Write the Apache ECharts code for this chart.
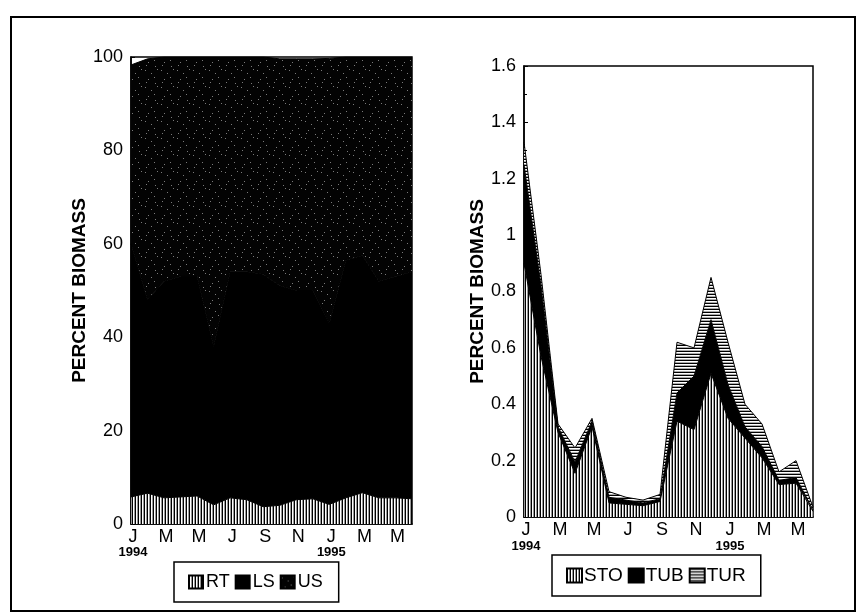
<!DOCTYPE html>
<html><head><meta charset="utf-8">
<script src="https://cdn.jsdelivr.net/npm/echarts@6/dist/echarts.min.js"></script>
<style>html,body{margin:0;padding:0;background:#fff}#c{width:864px;height:614px}</style>
</head><body><div id="c"></div>
<script>
// ---- data ----
const categories = ['Jan 1994','Feb 1994','Mar 1994','Apr 1994','May 1994','Jun 1994','Jul 1994','Aug 1994','Sep 1994','Oct 1994','Nov 1994','Dec 1994','Jan 1995','Feb 1995','Mar 1995','Apr 1995','May 1995','Jun 1995'];
const monthLetters = ['J','F','M','A','M','J','J','A','S','O','N','D','J','F','M','A','M','J'];
const yearLabels = ['1994','','','','','','','','','','','','1995','','','','',''];

// Left panel: percent biomass by component (stacked)
const RT = [5.8, 6.6, 5.6, 5.8, 6.0, 4.1, 5.6, 5.2, 3.7, 4.0, 5.2, 5.4, 4.2, 5.6, 6.7, 5.6, 5.6, 5.4];
const LS = [54.2, 41.4, 46.4, 47.2, 47.0, 33.9, 48.4, 48.8, 49.8, 47.0, 44.8, 44.6, 38.8, 50.9, 50.8, 46.4, 47.4, 48.6];
const US = [38.3, 51.6, 48.0, 47.0, 47.0, 62.0, 46.0, 46.0, 46.5, 48.6, 49.6, 49.6, 56.7, 43.5, 42.5, 48.0, 47.0, 46.0];

// Right panel: percent biomass (stacked)
const STO = [0.90, 0.57, 0.30, 0.155, 0.32, 0.05, 0.045, 0.04, 0.055, 0.34, 0.31, 0.51, 0.35, 0.28, 0.21, 0.115, 0.12, 0.02];
const TUB = [0.35, 0.25, 0.02, 0.04, 0.02, 0.02, 0.015, 0.01, 0.01, 0.10, 0.19, 0.19, 0.12, 0.04, 0.04, 0.015, 0.02, 0.005];
const TUR = [0.08, 0.04, 0.01, 0.05, 0.01, 0.02, 0.01, 0.01, 0.015, 0.18, 0.10, 0.15, 0.15, 0.08, 0.08, 0.03, 0.06, 0.01];

const leftLegend = ['RT','LS','US'];
const rightLegend = ['STO','TUB','TUR'];

// ---- fill patterns ----
function pattern(w, h, fn) {
  const c = document.createElement('canvas');
  c.width = w; c.height = h;
  const ctx = c.getContext('2d');
  for (let x = 0; x < w; x++) for (let y = 0; y < h; y++) {
    ctx.fillStyle = fn(x, y); ctx.fillRect(x, y, 1, 1);
  }
  return { image: c, repeat: 'repeat' };
}
const vStripe = pattern(3, 1, (x) => ['#000', '#fff', '#999'][x]);
const hStripe = pattern(1, 3, (x, y) => ['#000', '#fff', '#aaa'][y]);
const dots = [[1,2],[7,5],[4,11],[10,9],[13,1],[2,14],[11,15]];
const speckle = pattern(16, 17, (x, y) => dots.some(d => d[0] === x && d[1] === y) ? '#7a7a7a' : '#030303');

const FONT = '"Liberation Sans", Arial, sans-serif';

function xAxis(gridIndex, lh) {
  return {
    type: 'category', gridIndex, data: categories, boundaryGap: false,
    axisLine: { show: true, lineStyle: { color: '#000', width: 1.5 } },
    axisTick: { show: false },
    axisLabel: {
      interval: 1, margin: 4,
      formatter: (v, i) => '{m|' + monthLetters[i] + '}' + (yearLabels[i] ? '\n{y|' + yearLabels[i] + '}' : ''),
      rich: {
        m: { fontFamily: FONT, fontSize: 18, color: '#000', lineHeight: lh, padding: [0, 0, 0, 4] },
        y: { fontFamily: FONT, fontSize: 13, fontWeight: 'bold', color: '#000', lineHeight: 12, padding: [0, 0, 0, 4] }
      }
    },
    splitLine: { show: false }
  };
}
function yAxis(gridIndex, max, interval, gap) {
  return {
    type: 'value', gridIndex, min: 0, max, interval,
    name: 'PERCENT BIOMASS', nameLocation: 'middle', nameGap: gap,
    nameTextStyle: { fontFamily: FONT, fontSize: 19, fontWeight: 'bold', color: '#000' },
    axisLine: { show: true, lineStyle: { color: '#000', width: 1.5 } },
    axisTick: { show: true, inside: true, length: 4, lineStyle: { color: '#000' } },
    minorTick: { show: true, splitNumber: 2, length: 3, lineStyle: { color: '#000' } },
    axisLabel: { fontFamily: FONT, fontSize: 18, color: '#000', margin: 8 },
    splitLine: { show: false }
  };
}
function area(name, data, fill, idx, stack) {
  return {
    name, type: 'line', data, stack, xAxisIndex: idx, yAxisIndex: idx,
    showSymbol: false, symbol: 'none', smooth: false,
    lineStyle: { color: '#000', width: 1 },
    itemStyle: { color: fill, borderColor: '#000', borderWidth: 1 },
    areaStyle: { color: fill, opacity: 1 },
    emphasis: { disabled: true }
  };
}

const chart = echarts.init(document.getElementById('c'), null, { renderer: 'canvas' });
chart.setOption({
  animation: false,
  backgroundColor: '#fff',
  grid: [
    { left: 131, top: 57, width: 281, height: 467, show: true, borderColor: '#000', borderWidth: 1.5, backgroundColor: 'transparent' },
    { left: 524, top: 66, width: 289, height: 451, show: true, borderColor: '#000', borderWidth: 1.5, backgroundColor: 'transparent' }
  ],
  xAxis: [xAxis(0, 18), xAxis(1, 19)],
  yAxis: [yAxis(0, 100, 20, 40), yAxis(1, 1.6, 0.2, 33)],
  legend: [
    {
      data: leftLegend.map(n => ({ name: n, icon: 'rect' })),
      left: 174, top: 562, orient: 'horizontal',
      itemWidth: 14, itemHeight: 13, itemGap: 5,
      padding: [11, 16, 11, 14],
      borderColor: '#000', borderWidth: 1.5,
      textStyle: { fontFamily: FONT, fontSize: 18, color: '#000', padding: [0, 0, 0, -2] },
      selectedMode: false
    },
    {
      data: rightLegend.map(n => ({ name: n, icon: 'rect' })),
      left: 552, top: 555, orient: 'horizontal',
      itemWidth: 15, itemHeight: 14, itemGap: 5,
      padding: [11, 15, 11, 14],
      borderColor: '#000', borderWidth: 1.5,
      textStyle: { fontFamily: FONT, fontSize: 19, color: '#000', padding: [0, 0, 0, -3] },
      selectedMode: false
    }
  ],
  graphic: [
    { type: 'rect', shape: { x: 11, y: 17, width: 844, height: 594 }, style: { fill: 'none', stroke: '#000', lineWidth: 2 }, silent: true }
  ],
  series: [
    area('RT', RT, vStripe, 0, 'L'),
    area('LS', LS, '#000', 0, 'L'),
    area('US', US, speckle, 0, 'L'),
    area('STO', STO, vStripe, 1, 'R'),
    area('TUB', TUB, '#000', 1, 'R'),
    area('TUR', TUR, hStripe, 1, 'R')
  ]
});
</script>
</body></html>
